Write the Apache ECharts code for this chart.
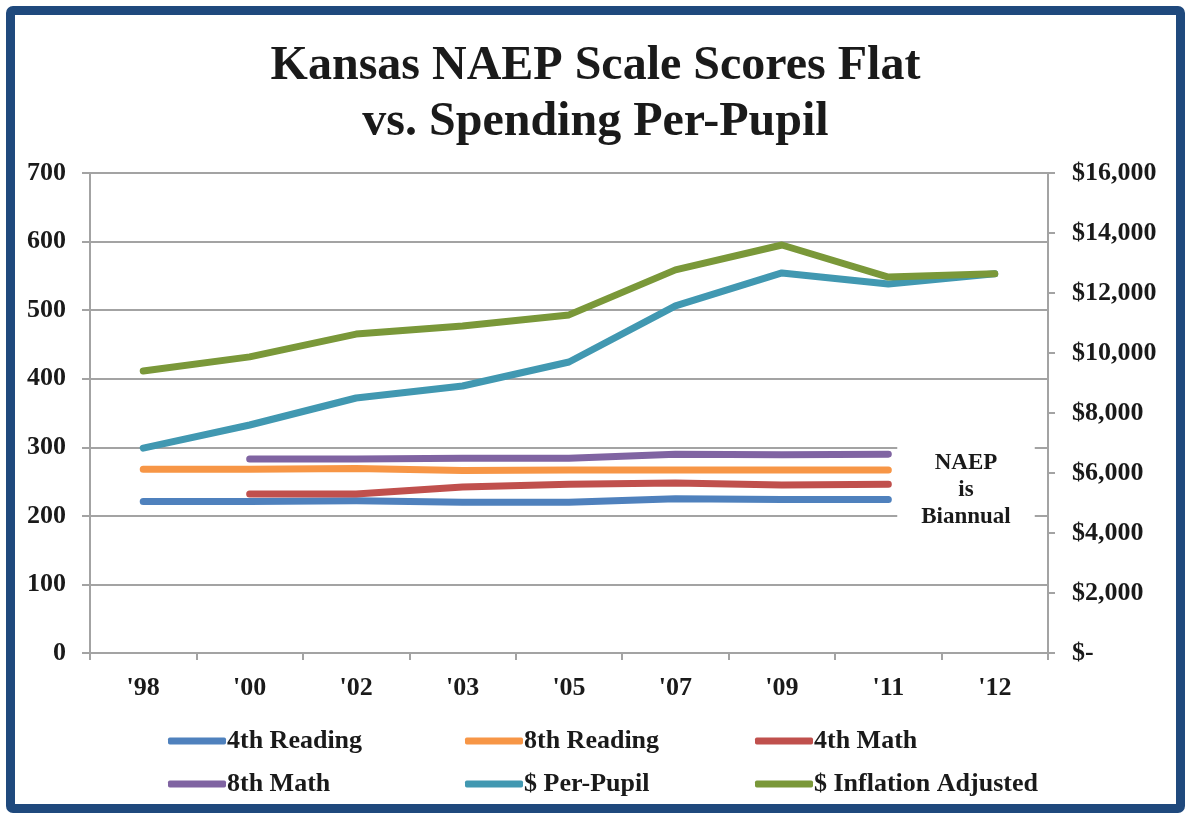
<!DOCTYPE html>
<html>
<head>
<meta charset="utf-8">
<script src="https://cdn.jsdelivr.net/npm/echarts@6/dist/echarts.min.js"></script>
<style>
  html, body { margin: 0; padding: 0; background: #fff; }
  .frame {
    position: absolute; left: 6px; top: 6px; width: 1179px; height: 807px;
    border: 9px solid #1f497d; border-radius: 7px; box-sizing: border-box;
  }
  #chart { position: absolute; left: 0; top: 0; width: 1191px; height: 819px; }
</style>
</head>
<body>
<div class="frame"></div>
<div id="chart"></div>
<script>
const years = ["'98", "'00", "'02", "'03", "'05", "'07", "'09", "'11", "'12"]

// NAEP scale scores (left axis)
const reading4 = [221, 221, 222, 220, 220, 225, 224, 224, null]
const reading8 = [268, 268, 269, 266, 267, 267, 267, 267, null]
const math4 = [null, 232, 232, 242, 246, 248, 245, 246, null]
const math8 = [null, 283, 283, 284, 284, 290, 289, 290, null]

// spending per pupil (right axis)
const perPupil = [6830, 7600, 8500, 8900, 9700, 11570, 12670, 12300, 12640]
const inflationAdj = [9400, 9870, 10630, 10900, 11270, 12770, 13600, 12530, 12640]

// legend columns, two rows each
const legendCols = [
  ['4th Reading', '8th Math'],
  ['8th Reading', '$ Per-Pupil'],
  ['4th Math', '$ Inflation Adjusted']
]
const legendLeft = [163, 460, 750]

const font = 'Liberation Serif'
const ink = '#1a1a1a'
const gridGray = '#a3a3a3'

const chart = echarts.init(document.getElementById('chart'))

const lineSeries = (name, data, color, axis) => ({
  name,
  type: 'line',
  data,
  yAxisIndex: axis,
  symbol: 'none',
  smooth: false,
  lineStyle: { width: 7, color, cap: 'round', join: 'round' },
  itemStyle: { color }
})

const labelFont = { fontFamily: font, fontWeight: 'bold', fontSize: 26, color: ink }

const option = {
  backgroundColor: 'transparent',
  animation: false,
  title: {
    text: 'Kansas NAEP Scale Scores Flat\nvs. Spending Per-Pupil',
    left: 'center',
    top: 34,
    textStyle: { fontFamily: font, fontWeight: 'bold', fontSize: 48, lineHeight: 56, color: ink }
  },
  legend: legendCols.map((names, i) => ({
    orient: 'vertical',
    left: legendLeft[i],
    top: 723,
    itemWidth: 58,
    itemHeight: 7,
    itemGap: 17,
    icon: 'roundRect',
    textStyle: { ...labelFont, padding: [0, 0, 0, -4] },
    data: names
  })),
  grid: { left: 90, right: 143, top: 173, bottom: 166 },
  xAxis: {
    type: 'category',
    data: years,
    boundaryGap: true,
    axisLine: { lineStyle: { color: gridGray, width: 2 } },
    axisTick: { show: true, interval: 0, length: 7, lineStyle: { color: gridGray, width: 2 } },
    axisLabel: { ...labelFont, margin: 22 }
  },
  yAxis: [
    {
      type: 'value',
      min: 0,
      max: 700,
      interval: 100,
      axisLine: { show: true, lineStyle: { color: gridGray, width: 2 } },
      axisTick: { show: true, length: 8, lineStyle: { color: gridGray, width: 2 } },
      splitLine: { lineStyle: { color: gridGray, width: 2 } },
      axisLabel: { ...labelFont, margin: 24 }
    },
    {
      type: 'value',
      position: 'right',
      min: 0,
      max: 16000,
      interval: 2000,
      axisLine: { show: true, lineStyle: { color: gridGray, width: 2 } },
      axisTick: { show: true, length: 7, lineStyle: { color: gridGray, width: 2 } },
      splitLine: { show: false },
      axisLabel: {
        ...labelFont, margin: 24,
        formatter: (v) => v === 0 ? '$-' : '$' + v.toLocaleString('en-US')
      }
    }
  ],
  graphic: [
    {
      type: 'text',
      x: 966,
      y: 490,
      z: 100,
      style: {
        text: 'NAEP\nis\nBiannual',
        fontFamily: font,
        fontWeight: 'bold',
        fontSize: 23,
        lineHeight: 27,
        fill: ink,
        align: 'center',
        verticalAlign: 'middle',
        backgroundColor: '#fff',
        padding: [6, 24, 6, 24]
      }
    }
  ],
  series: [
    lineSeries('4th Reading', reading4, '#4f81bd', 0),
    lineSeries('8th Reading', reading8, '#f79646', 0),
    lineSeries('4th Math', math4, '#c0504d', 0),
    lineSeries('8th Math', math8, '#8064a2', 0),
    lineSeries('$ Per-Pupil', perPupil, '#4198b1', 1),
    lineSeries('$ Inflation Adjusted', inflationAdj, '#7a9839', 1)
  ]
}

chart.setOption(option)
</script>
</body>
</html>
